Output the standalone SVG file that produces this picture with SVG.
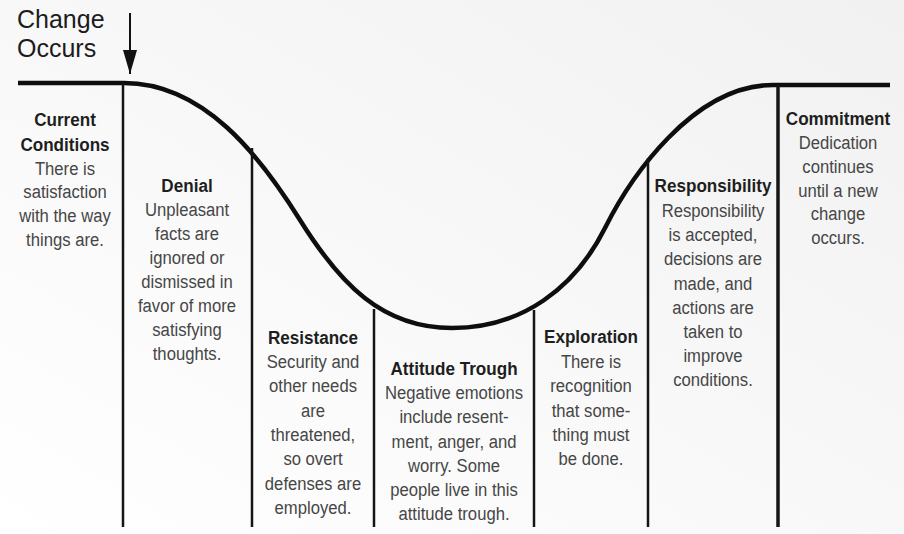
<svg xmlns="http://www.w3.org/2000/svg" width="904" height="534" viewBox="0 0 904 534">
  <defs>
    <linearGradient id="bg" x1="0" y1="1" x2="1" y2="0">
      <stop offset="0" stop-color="#ffffff"/>
      <stop offset="1" stop-color="#f1f1f1"/>
    </linearGradient>
    <!-- arrowhead drawn along +x so orient="auto" turns it with the line -->
    <marker id="arrowhead" viewBox="0 0 24 14" refX="24" refY="7" markerWidth="24" markerHeight="14" markerUnits="userSpaceOnUse" orient="auto">
      <path d="M0,0 L24,7 L0,14 Z" fill="#111"/>
    </marker>
  </defs>
  <style>
    .title { font-family: "Liberation Sans", Arial, sans-serif; font-size: 25px; fill: #1c1c1c; }
    /* condensed look: Arial-width face squeezed horizontally around each column centre */
    .head { font-family: "Liberation Sans", Arial, sans-serif; font-weight: bold; font-size: 19px; fill: #1e1e1e; text-anchor: middle; transform: scale(0.9, 1); }
    .body { font-family: "Liberation Sans", Arial, sans-serif; font-size: 19px; fill: #464646; text-anchor: middle; transform: scale(0.877, 1); }
    .curve { fill: none; stroke: #0e0e0e; stroke-width: 4.5; }
    .divider { stroke: #151515; stroke-width: 2.5; }
    .pointer { stroke: #111; stroke-width: 2; }
  </style>

  <rect x="0" y="0" width="904" height="534" fill="url(#bg)"/>

  <!-- change marker -->
  <g id="change-occurs">
    <text class="title" x="17" y="28">Change</text>
    <text class="title" x="17" y="57">Occurs</text>
    <line class="pointer" x1="130" y1="13" x2="130" y2="74" marker-end="url(#arrowhead)"/>
  </g>

  <!-- the change curve and the phase dividers -->
  <g id="connectors">
    <path class="curve" d="M18,83 L124,83 C204,83 260,156 300,220 C340,284 382,328 452,328 C522,328 575,288 605,228 C630,178 693,85 773,85 L890,85"/>
    <line class="divider" x1="123" y1="83" x2="123" y2="527"/>
    <line class="divider" x1="252" y1="148" x2="252" y2="527"/>
    <line class="divider" x1="374" y1="309" x2="374" y2="527"/>
    <line class="divider" x1="534" y1="310" x2="534" y2="527"/>
    <line class="divider" x1="648" y1="158" x2="648" y2="527"/>
    <line class="divider" x1="778" y1="85" x2="778" y2="527" style="stroke-width:3.5"/>
  </g>

  <g id="current-conditions" transform="translate(65 0)">
    <text class="head" y="126">Current</text>
    <text class="head" y="151">Conditions</text>
    <text class="body" y="175">There is</text>
    <text class="body" y="198">satisfaction</text>
    <text class="body" y="222">with the way</text>
    <text class="body" y="246">things are.</text>
  </g>

  <g id="denial" transform="translate(187 0)">
    <text class="head" y="192">Denial</text>
    <text class="body" y="216">Unpleasant</text>
    <text class="body" y="240">facts are</text>
    <text class="body" y="264">ignored or</text>
    <text class="body" y="288">dismissed in</text>
    <text class="body" y="312">favor of more</text>
    <text class="body" y="336">satisfying</text>
    <text class="body" y="360">thoughts.</text>
  </g>

  <g id="resistance" transform="translate(313 0)">
    <text class="head" y="344">Resistance</text>
    <text class="body" y="368">Security and</text>
    <text class="body" y="392">other needs</text>
    <text class="body" y="417">are</text>
    <text class="body" y="441">threatened,</text>
    <text class="body" y="465">so overt</text>
    <text class="body" y="490">defenses are</text>
    <text class="body" y="514">employed.</text>
  </g>

  <g id="attitude-trough" transform="translate(454 0)">
    <text class="head" y="375">Attitude Trough</text>
    <text class="body" y="399">Negative emotions</text>
    <text class="body" y="423">include resent-</text>
    <text class="body" y="448">ment, anger, and</text>
    <text class="body" y="472">worry. Some</text>
    <text class="body" y="496">people live in this</text>
    <text class="body" y="520">attitude trough.</text>
  </g>

  <g id="exploration" transform="translate(591 0)">
    <text class="head" y="343">Exploration</text>
    <text class="body" y="368">There is</text>
    <text class="body" y="392">recognition</text>
    <text class="body" y="417">that some-</text>
    <text class="body" y="441">thing must</text>
    <text class="body" y="465">be done.</text>
  </g>

  <g id="responsibility" transform="translate(713 0)">
    <text class="head" y="192">Responsibility</text>
    <text class="body" y="217">Responsibility</text>
    <text class="body" y="241">is accepted,</text>
    <text class="body" y="265">decisions are</text>
    <text class="body" y="290">made, and</text>
    <text class="body" y="314">actions are</text>
    <text class="body" y="338">taken to</text>
    <text class="body" y="362">improve</text>
    <text class="body" y="386">conditions.</text>
  </g>

  <g id="commitment" transform="translate(838 0)">
    <text class="head" y="125">Commitment</text>
    <text class="body" y="149">Dedication</text>
    <text class="body" y="173">continues</text>
    <text class="body" y="197">until a new</text>
    <text class="body" y="220">change</text>
    <text class="body" y="244">occurs.</text>
  </g>
</svg>
